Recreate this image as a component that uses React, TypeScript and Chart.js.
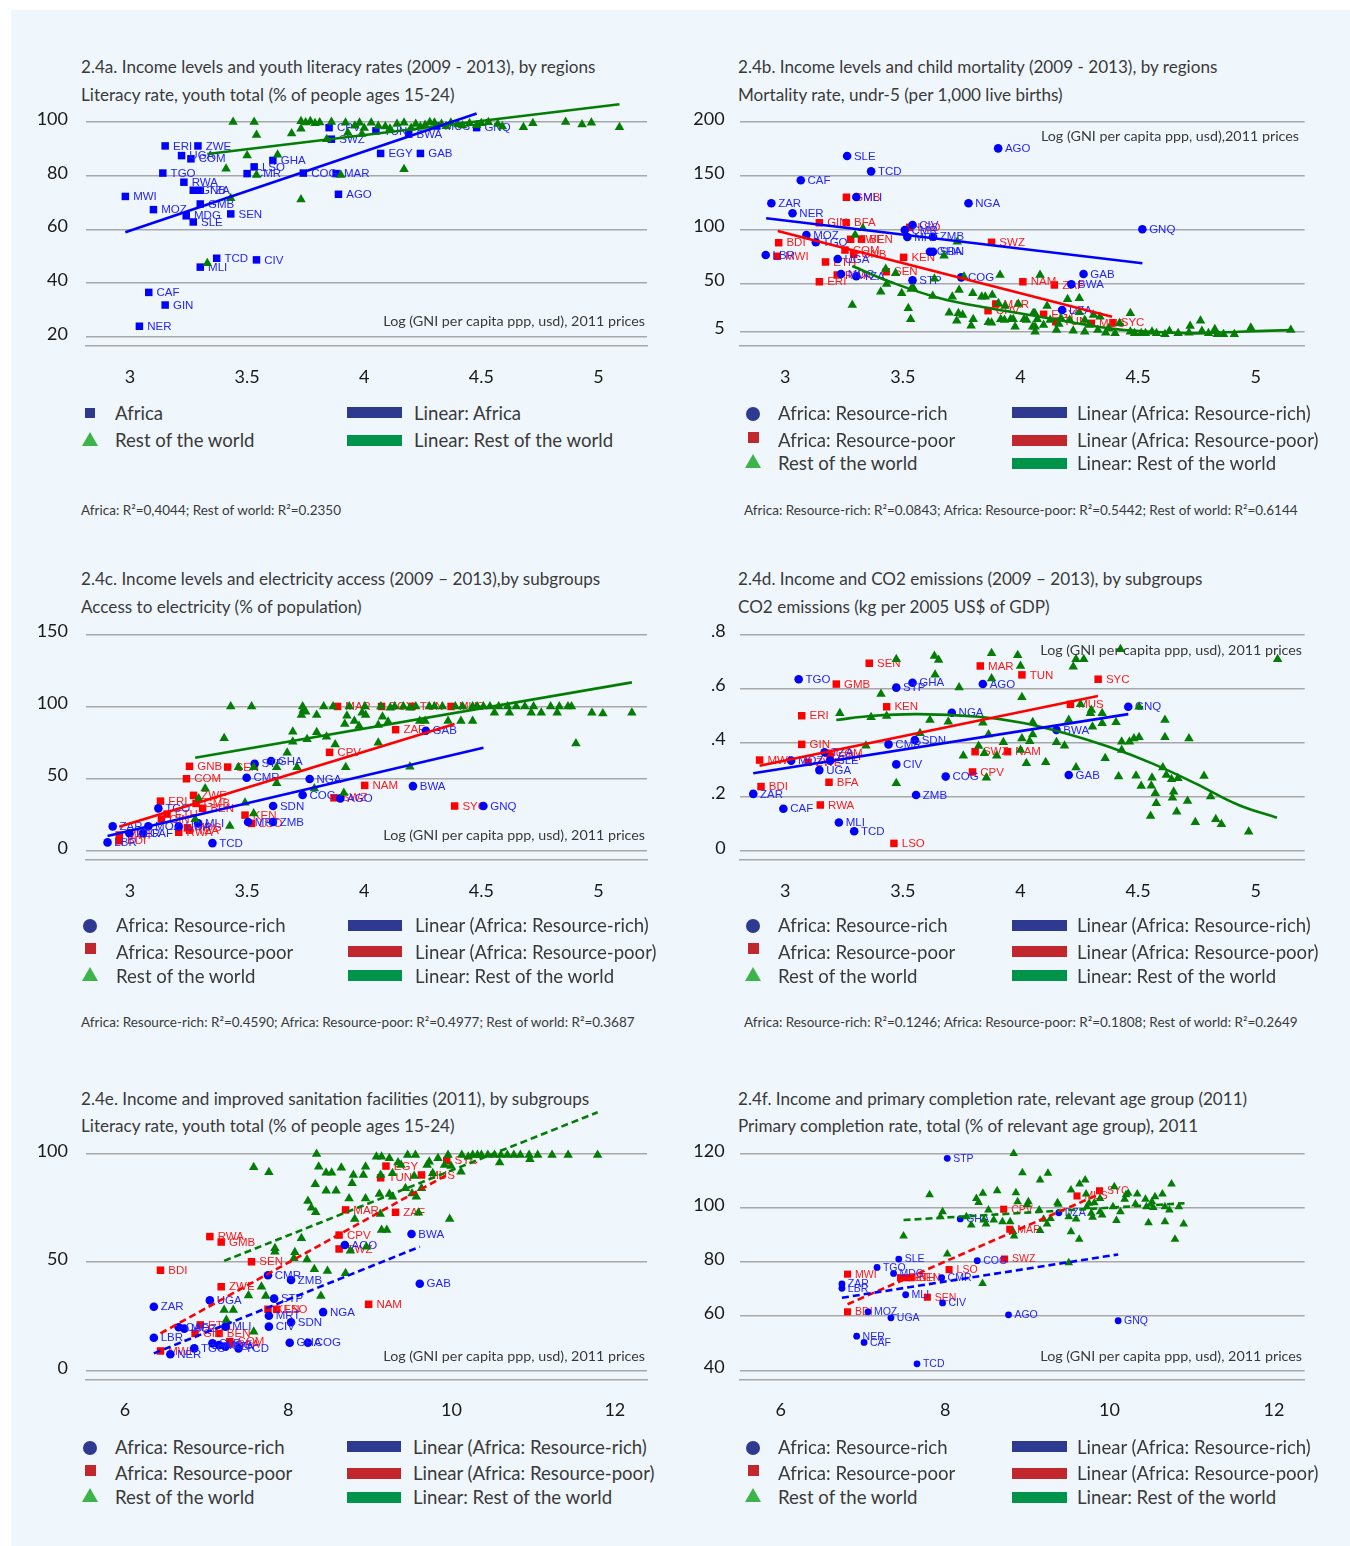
import React, { useEffect, useRef } from "react";
import { Chart, registerables } from "chart.js";
Chart.register(...registerables);

type Pt = [string, number, number];
type XY = [number, number];

// ---------------- DATA ----------------
// 2.4a youth literacy
const A_AFRICA: Pt[] = [
  ["ERI", 3.15, 91.1], ["ZWE", 3.29, 91.1], ["UGA", 3.22, 87.5], ["COM", 3.26, 86.3], ["TGO", 3.14, 81.0],
  ["RWA", 3.23, 77.6], ["GNB", 3.27, 74.6], ["TZA", 3.30, 74.6], ["MWI", 2.98, 72.3], ["GMB", 3.30, 69.5],
  ["MOZ", 3.10, 67.4], ["MDG", 3.24, 65.1], ["SLE", 3.27, 62.8], ["SEN", 3.43, 65.8], ["LSO", 3.53, 83.3],
  ["CMR", 3.50, 80.8], ["GHA", 3.61, 85.7], ["COG", 3.74, 81.0], ["MAR", 3.88, 80.8], ["AGO", 3.89, 73.1],
  ["TCD", 3.37, 49.3], ["CIV", 3.54, 48.7], ["MLI", 3.30, 46.0], ["CAF", 3.08, 36.6], ["GIN", 3.15, 31.9],
  ["NER", 3.04, 24.0], ["CPV", 3.85, 97.9], ["SWZ", 3.86, 93.6], ["TUN", 4.05, 96.7], ["BWA", 4.19, 95.5],
  ["EGY", 4.07, 88.3], ["GAB", 4.24, 88.3], ["MUS", 4.31, 98.5], ["GNQ", 4.48, 97.9],
];
const A_REST: XY[] = [
  [3.44, 100], [3.53, 100], [3.54, 95.2], [3.50, 87.5], [3.41, 82.6], [3.43, 71.6], [3.54, 80.3], [3.63, 87.8],
  [3.69, 95.7], [3.73, 100.3], [3.73, 97.5], [3.73, 71.2], [3.79, 99.5], [3.86, 100], [3.84, 93.6], [3.92, 99.7],
  [3.93, 96], [3.90, 80.3], [3.98, 99.7], [3.99, 95.5], [4.03, 99.7], [4.06, 98.5], [4.09, 98.3], [4.14, 99.3],
  [4.17, 99.7], [4.17, 82.4], [4.22, 99.3], [4.26, 98.9], [4.30, 99.7], [4.33, 99.3], [4.37, 99.7], [4.45, 99.5],
  [4.50, 99.5], [4.57, 99.3], [4.59, 98.3], [4.68, 98], [4.72, 99.5], [4.86, 100], [4.93, 99.1], [4.97, 99.7],
  [5.09, 98], [3.33, 47.4], [3.75, 99.8], [3.81, 99.8], [4.00, 97.8], [4.11, 97.5], [4.20, 97.8], [4.24, 98.2],
  [4.28, 99.9], [4.35, 98.4], [4.40, 99.1], [4.42, 98.7], [4.48, 98.8], [4.53, 99.9], [3.77, 100.3], [3.96, 98.6],
];
const A_LINE_AFRICA: XY[] = [[2.98, 59.0], [4.48, 103.2]];
const A_LINE_REST: XY[] = [[3.33, 88.1], [5.09, 106.6]];

// 2.4b child mortality
const B_RICH: Pt[] = [
  ["AGO", 3.905, 175.5], ["SLE", 3.263, 168.4], ["TCD", 3.365, 154.1], ["CAF", 3.066, 145.8], ["ZAR", 2.941, 124.4],
  ["NGA", 3.779, 124.4], ["MLI", 3.302, 130.2], ["NER", 3.031, 115.1], ["GNQ", 4.518, 100.2], ["CIV", 3.541, 104.2],
  ["MOZ", 3.090, 94.9], ["TGO", 3.130, 88.1], ["CMR", 3.508, 99.5], ["MRT", 3.519, 93.0], ["ZMB", 3.628, 93.3],
  ["GHA", 3.615, 79.3], ["SDN", 3.628, 79.3], ["LBR", 2.917, 76.3], ["UGA", 3.223, 72.6], ["MDG", 3.237, 58.6],
  ["TZA", 3.302, 56.5], ["STP", 3.541, 52.7], ["COG", 3.748, 55.5], ["GAB", 4.268, 58.6], ["BWA", 4.216, 49.0],
  ["DZA", 4.177, 25.1],
];
const B_POOR: Pt[] = [
  ["GMB", 3.260, 130.0], ["GIN", 3.145, 106.3], ["BFA", 3.259, 106.3], ["LSO", 3.529, 102.0], ["BDI", 2.972, 87.7],
  ["MWI", 2.966, 75.1], ["ZWE", 3.278, 90.9], ["BEN", 3.324, 90.9], ["COM", 3.254, 80.9], ["GNB", 3.291, 76.9],
  ["SWZ", 3.877, 88.1], ["KEN", 3.503, 74.1], ["ETH", 3.171, 69.8], ["RWA", 3.221, 57.7], ["ERI", 3.145, 51.4],
  ["SEN", 3.429, 60.7], ["NAM", 4.010, 51.4], ["ZAF", 4.144, 48.4], ["MAR", 3.895, 30.7], ["CPV", 3.862, 24.5],
  ["EGY", 4.098, 21.1], ["TUN", 4.150, 14.2], ["MUS", 4.301, 12.7], ["SYC", 4.393, 13.3],
];
const B_REST: XY[] = [
  [3.330, 101.1], [3.297, 94.9], [3.731, 88.6], [3.675, 75.6], [3.285, 29.8], [3.427, 63.3], [3.469, 59.3],
  [3.535, 44.7], [3.431, 49.3], [3.406, 42.1], [3.495, 40.6], [3.523, 26.7], [3.533, 16.5], [3.627, 38.1],
  [3.710, 37.5], [3.739, 43.7], [3.760, 56.1], [3.697, 22.6], [3.736, 22.0], [3.754, 20.5], [3.729, 15.2],
  [3.797, 40.6], [3.799, 16.5], [3.790, 10.5], [3.835, 37.5], [3.880, 39.1], [3.863, 13.7], [3.913, 57.7],
  [3.906, 31.3], [3.934, 28.8], [3.916, 16.5], [3.958, 16.5], [3.977, 9.6], [3.991, 30.7], [4.026, 15.8],
  [4.054, 22.0], [4.062, 9.6], [4.062, 4.9], [3.634, 54.2], [3.545, 45.3], [3.850, 37.5], [3.877, 13.3],
  [3.932, 15.8], [3.969, 16.5], [4.015, 16.5], [4.052, 9.6], [4.061, 22.0], [4.071, 16.5], [4.083, 57.7],
  [4.098, 11.2], [4.113, 28.8], [4.126, 15.8], [4.153, 6.5], [4.163, 12.1], [4.172, 17.4], [4.200, 35.1],
  [4.209, 15.8], [4.224, 5.9], [4.250, 36.0], [4.250, 23.0], [4.273, 4.9], [4.273, 15.8], [4.292, 11.2],
  [4.310, 20.5], [4.329, 6.5], [4.338, 18.9], [4.362, 4.0], [4.375, 8.1], [4.402, 3.4], [4.421, 12.7],
  [4.467, 22.0], [4.467, 4.9], [4.485, 3.4], [4.513, 3.4], [4.531, 3.4], [4.559, 4.9], [4.578, 3.4],
  [4.614, 2.5], [4.633, 5.6], [4.670, 3.4], [4.716, 4.0], [4.721, 10.2], [4.765, 15.2], [4.771, 5.6],
  [4.799, 3.4], [4.826, 7.2], [4.836, 2.5], [4.863, 2.5], [4.909, 2.5], [4.979, 8.7], [5.149, 6.5],
];
const B_LINE_RICH: XY[] = [[2.919, 110.4], [4.518, 68.6]];
const B_LINE_POOR: XY[] = [[2.968, 98.6], [4.389, 18.9]];
const B_LINE_REST: XY[] = [
  [3.285, 66.0], [3.445, 51.4], [3.658, 36.0], [3.870, 26.7], [4.083, 18.9], [4.375, 8.1], [4.559, 4.9],
  [4.743, 3.4], [4.927, 4.9], [5.149, 6.5],
];

// 2.4c electricity access
const C_RICH: Pt[] = [
  ["GAB", 4.263, 83.2], ["GHA", 3.602, 62.2], ["STP", 3.532, 60.3], ["CMR", 3.498, 50.6], ["NGA", 3.767, 49.7],
  ["BWA", 4.208, 44.8], ["COG", 3.737, 38.6], ["AGO", 3.898, 36.3], ["GNQ", 4.509, 31.0], ["SDN", 3.611, 31.0],
  ["TGO", 3.121, 29.4], ["ZAR", 2.926, 16.9], ["MOZ", 3.078, 16.9], ["UGA", 3.208, 16.9], ["MLI", 3.291, 19.0],
  ["MRT", 3.504, 19.9], ["ZMB", 3.610, 19.9], ["LBR", 2.904, 5.8], ["TCD", 3.352, 5.3], ["NER", 2.997, 12.1],
  ["CAF", 3.056, 12.1],
];
const C_POOR: Pt[] = [
  ["ZAF", 4.134, 83.9], ["CPV", 3.852, 68.2], ["GNB", 3.254, 58.5], ["SEN", 3.417, 58.0], ["COM", 3.241, 49.9],
  ["NAM", 4.002, 45.3], ["ZWE", 3.271, 38.4], ["ERI", 3.130, 34.4], ["GMB", 3.282, 32.8], ["BEN", 3.310, 29.4],
  ["SWZ", 3.871, 36.7], ["SYC", 4.386, 31.0], ["KEN", 3.491, 24.7], ["LSO", 3.519, 19.0], ["ETH", 3.158, 25.4],
  ["GIN", 3.134, 22.0], ["MDG", 3.245, 15.9], ["TZA", 3.254, 14.3], ["RWA", 3.208, 12.8], ["BDI", 2.954, 6.9],
  ["MWI", 2.954, 10.9], ["MAR", 3.886, 100], ["EGY", 4.074, 100], ["TUN", 4.204, 100], ["MUS", 4.371, 100],
];
const C_REST: XY[] = [
  [3.430, 100], [3.519, 100], [3.402, 77.9], [3.321, 43.2], [3.293, 36.3], [3.278, 21.8], [3.426, 17.1],
  [3.463, 57.8], [3.528, 57.8], [3.491, 33.3], [3.528, 25.9], [3.626, 57.8], [3.626, 46.7], [3.671, 67.9],
  [3.695, 82.5], [3.695, 75.6], [3.713, 57.8], [3.737, 100], [3.732, 94.1], [3.750, 96.4], [3.756, 77.2],
  [3.787, 43.2], [3.797, 94.1], [3.797, 82.1], [3.827, 100], [3.839, 79], [3.867, 100], [3.876, 73.7],
  [3.921, 57.8], [3.913, 40], [3.917, 87.8], [3.926, 93.6], [3.936, 100], [3.958, 89.9], [3.978, 86.4],
  [3.991, 95.7], [4.003, 100], [4.006, 94.1], [4.060, 74.9], [4.060, 87.1], [4.071, 100], [4.078, 92.9],
  [4.102, 89.4], [4.111, 99.1], [4.167, 100], [4.195, 58.2], [4.195, 99.1], [4.237, 89.9], [4.260, 89.9],
  [4.278, 100], [4.334, 100], [4.358, 89.9], [4.389, 100], [4.413, 89.9], [4.463, 89.9], [4.463, 100],
  [4.482, 100], [4.509, 100], [4.537, 100], [4.556, 95.7], [4.574, 100], [4.612, 100], [4.620, 95.7],
  [4.649, 100], [4.686, 100], [4.713, 95.7], [4.723, 100], [4.756, 95.7], [4.796, 100], [4.824, 95.7],
  [4.833, 100], [4.870, 100], [4.885, 100], [4.904, 74.4], [4.972, 95.7], [5.019, 95.2], [5.143, 95.7],
  [4.13, 100], [4.22, 100], [4.30, 100], [4.42, 100], [3.74, 97.5],
];
const C_LINE_RICH: XY[] = [[2.904, 10.2], [4.509, 71.4]];
const C_LINE_POOR: XY[] = [[2.954, 16.6], [4.386, 87.8]];
const C_LINE_REST: XY[] = [[3.278, 64.5], [5.143, 116.7]];

// 2.4d CO2 emissions
const D_RICH: Pt[] = [
  ["TGO", 3.057, 0.634], ["STP", 3.472, 0.603], ["GHA", 3.541, 0.621], ["AGO", 3.840, 0.616], ["NGA", 3.708, 0.510],
  ["GNQ", 4.458, 0.532], ["BWA", 4.153, 0.446], ["CMR", 3.439, 0.393], ["SDN", 3.551, 0.409], ["TZA", 3.167, 0.364],
  ["SLE", 3.191, 0.333], ["MOZ", 3.025, 0.333], ["UGA", 3.145, 0.298], ["CIV", 3.472, 0.319], ["COG", 3.682, 0.274],
  ["GAB", 4.205, 0.280], ["ZAR", 2.864, 0.210], ["ZMB", 3.556, 0.206], ["CAF", 2.992, 0.155], ["MLI", 3.228, 0.104],
  ["TCD", 3.293, 0.072],
];
const D_POOR: Pt[] = [
  ["SEN", 3.357, 0.693], ["MAR", 3.829, 0.683], ["TUN", 4.006, 0.650], ["GMB", 3.217, 0.616], ["SYC", 4.330, 0.634],
  ["KEN", 3.431, 0.532], ["MUS", 4.212, 0.541], ["ERI", 3.070, 0.499], ["GIN", 3.070, 0.393], ["MWI", 2.891, 0.335],
  ["ZWE", 3.097, 0.327], ["COM", 3.182, 0.360], ["ETH", 3.191, 0.350], ["SWZ", 3.807, 0.366], ["NAM", 3.945, 0.366],
  ["CPV", 3.796, 0.291], ["BDI", 2.897, 0.237], ["BFA", 3.186, 0.253], ["RWA", 3.149, 0.169], ["LSO", 3.462, 0.027],
];
const D_REST: XY[] = [
  [3.232, 0.508], [3.365, 0.493], [3.343, 0.388], [3.407, 0.579], [3.431, 0.498], [3.472, 0.708], [3.472, 0.249],
  [3.573, 0.434], [3.615, 0.483], [3.634, 0.720], [3.652, 0.705], [3.637, 0.650], [3.693, 0.477], [3.739, 0.603],
  [3.757, 0.351], [3.822, 0.387], [3.840, 0.473], [3.846, 0.360], [3.855, 0.270], [3.864, 0.430], [3.877, 0.730],
  [3.877, 0.637], [3.899, 0.351], [3.927, 0.401], [3.988, 0.723], [4.000, 0.683], [4.006, 0.567], [4.006, 0.415],
  [4.000, 0.372], [4.025, 0.323], [4.039, 0.405], [4.052, 0.475], [4.052, 0.430], [4.107, 0.327], [4.153, 0.401],
  [4.187, 0.388], [4.205, 0.483], [4.224, 0.680], [4.236, 0.708], [4.269, 0.708], [4.236, 0.308], [4.255, 0.541],
  [4.297, 0.508], [4.301, 0.520], [4.306, 0.458], [4.347, 0.508], [4.347, 0.471], [4.360, 0.342], [4.406, 0.475],
  [4.417, 0.274], [4.430, 0.403], [4.430, 0.372], [4.425, 0.745], [4.463, 0.403], [4.482, 0.415], [4.491, 0.277],
  [4.504, 0.419], [4.504, 0.532], [4.513, 0.239], [4.553, 0.128], [4.556, 0.240], [4.559, 0.270], [4.573, 0.212],
  [4.577, 0.175], [4.605, 0.308], [4.614, 0.483], [4.614, 0.419], [4.620, 0.280], [4.642, 0.264], [4.646, 0.196],
  [4.651, 0.218], [4.664, 0.144], [4.669, 0.268], [4.710, 0.184], [4.716, 0.415], [4.743, 0.105], [4.780, 0.276],
  [4.808, 0.200], [4.830, 0.116], [4.854, 0.098], [4.970, 0.070], [5.093, 0.708],
];
const D_LINE_RICH: XY[] = [[2.864, 0.286], [4.458, 0.505]];
const D_LINE_POOR: XY[] = [[2.891, 0.314], [4.329, 0.572]];
const D_LINE_REST: XY[] = [
  [3.217, 0.483], [3.361, 0.498], [3.564, 0.505], [3.822, 0.495], [4.006, 0.473], [4.190, 0.434], [4.375, 0.384],
  [4.559, 0.323], [4.743, 0.249], [4.927, 0.169], [5.090, 0.122],
];

// 2.4e sanitation
const E_RICH: Pt[] = [
  ["BWA", 9.510, 63.0], ["AGO", 8.693, 57.9], ["GAB", 9.611, 40.1], ["CMR", 7.752, 44.0], ["ZMB", 8.034, 41.8],
  ["UGA", 7.040, 32.4], ["STP", 7.827, 33.2], ["ZAR", 6.354, 29.5], ["NGA", 8.427, 27.0], ["MRT", 7.763, 25.3],
  ["SDN", 8.034, 22.3], ["CIV", 7.763, 20.3], ["MLI", 7.231, 20.3], ["CAF", 6.658, 20.0], ["MOZ", 6.727, 19.4],
  ["LBR", 6.354, 15.2], ["TGO", 6.849, 10.3], ["SLE", 7.072, 12.6], ["MDG", 7.152, 11.8], ["TZA", 7.231, 11.1],
  ["TCD", 7.391, 10.3], ["GHA", 8.018, 12.9], ["COG", 8.241, 12.9], ["NER", 6.556, 7.6],
];
const E_POOR: Pt[] = [
  ["EGY", 9.197, 94.3], ["TUN", 9.132, 88.9], ["MUS", 9.632, 90.2], ["SYC", 9.941, 96.8], ["ZAF", 9.314, 73.0],
  ["MAR", 8.702, 74.1], ["CPV", 8.623, 62.5], ["SWZ", 8.623, 56.1], ["RWA", 7.040, 61.8], ["GMB", 7.179, 59.3],
  ["SEN", 7.550, 50.2], ["BDI", 6.435, 46.3], ["ZWE", 7.179, 38.7], ["KEN", 7.752, 28.3], ["LSO", 7.858, 28.3],
  ["ETH", 6.923, 21.1], ["GIN", 6.859, 17.2], ["BEN", 7.152, 17.2], ["COM", 7.284, 13.4], ["BFA", 7.284, 12.3],
  ["MWI", 6.435, 9.1], ["NAM", 8.984, 30.6],
];
const E_REST: XY[] = [
  [7.577, 93.7], [7.763, 91.4], [8.347, 99.9], [8.373, 94.0], [8.331, 85.9], [8.241, 78.2], [8.283, 75.1],
  [8.336, 73.0], [8.464, 91.2], [8.532, 91.2], [8.464, 82.9], [8.586, 82.9], [8.650, 93.5], [8.745, 79.4],
  [8.782, 86.4], [8.814, 69.9], [8.798, 90.2], [8.920, 90.2], [8.947, 94.0], [8.947, 79.4], [9.080, 98.6],
  [9.143, 98.6], [9.132, 90.2], [9.116, 81.4], [9.127, 72.2], [9.143, 64.8], [9.207, 64.8], [9.239, 97.9],
  [9.277, 91.0], [9.239, 81.4], [9.277, 80.2], [9.345, 96.0], [9.382, 94.8], [9.436, 84.1], [9.462, 99.4],
  [9.516, 81.7], [9.542, 89.7], [9.558, 99.4], [9.569, 80.2], [9.595, 72.8], [9.632, 84.1], [9.701, 94.8],
  [9.727, 96.3], [9.770, 91.0], [9.834, 97.9], [9.914, 94.8], [9.957, 99.4], [9.977, 69.9], [9.993, 94.3],
  [10.116, 91.7], [10.126, 99.4], [10.205, 98.6], [10.259, 99.4], [10.318, 99.4], [10.366, 99.4], [10.445, 99.4],
  [10.525, 99.4], [10.589, 96.0], [10.604, 99.4], [10.684, 99.4], [10.763, 99.4], [10.843, 99.4], [10.950, 99.4],
  [10.960, 97.4], [11.055, 99.4], [11.231, 99.4], [11.428, 99.4], [11.789, 99.4], [7.837, 56.4], [7.837, 54.8],
  [8.081, 54.6], [8.070, 51.8], [8.161, 61.0], [8.230, 51.3], [8.320, 46.7], [8.480, 45.9], [8.702, 44.9],
  [8.400, 34.4], [8.761, 55.3], [8.957, 57.1], [7.672, 38.7], [7.725, 34.4], [7.513, 34.6], [7.215, 28.0],
  [7.327, 28.0], [7.242, 23.4], [7.577, 18.0],
];
const E_LINE_RICH: XY[] = [[6.354, 8.0], [9.611, 57.1]];
const E_LINE_POOR: XY[] = [[6.435, 17.2], [9.941, 90.2]];
const E_LINE_REST: XY[] = [[7.215, 50.6], [11.789, 119.1]];

// 2.4f primary completion
const F_RICH: Pt[] = [
  ["STP", 8.026, 118.3], ["GHA", 8.184, 95.9], ["DZA", 9.383, 98.2], ["SLE", 7.436, 81.1], ["COG", 8.391, 80.5],
  ["TGO", 7.172, 78.0], ["MDG", 7.373, 75.8], ["CMR", 7.958, 74.2], ["ZAR", 6.745, 71.9], ["LBR", 6.745, 70.3],
  ["MLI", 7.520, 67.9], ["CIV", 7.969, 64.9], ["MOZ", 7.062, 61.6], ["AGO", 8.771, 60.5], ["UGA", 7.341, 59.4],
  ["GNQ", 10.105, 58.3], ["NER", 6.924, 52.6], ["CAF", 7.014, 50.3], ["TCD", 7.658, 42.4],
];
const F_POOR: Pt[] = [
  ["SYC", 9.878, 106.3], ["MUS", 9.604, 104.4], ["CPV", 8.712, 99.5], ["MAR", 8.786, 92.1], ["SWZ", 8.723, 81.1],
  ["LSO", 8.048, 77.2], ["MWI", 6.813, 75.5], ["GIN", 7.457, 74.2], ["ETH", 7.536, 74.2], ["BEN", 7.589, 74.2],
  ["SEN", 7.784, 67.0], ["BDI", 6.813, 61.6],
];
const F_REST: XY[] = [
  [8.834, 120.1], [8.940, 113.0], [9.155, 110.3], [9.251, 112.8], [7.811, 104.8], [7.494, 89.6], [7.969, 98.6],
  [7.942, 96.7], [8.026, 83.0], [8.259, 96.7], [8.317, 93.7], [8.380, 103.5], [8.407, 102.0], [8.459, 105.4],
  [8.470, 95.5], [8.497, 94.0], [8.527, 99.2], [8.455, 72.1], [8.591, 95.5], [8.633, 106.3], [8.697, 94.9],
  [8.791, 94.9], [8.828, 91.2], [8.839, 89.6], [8.861, 105.6], [8.882, 102.3], [8.997, 101.2], [9.013, 102.3],
  [9.145, 99.2], [9.155, 91.6], [9.198, 95.8], [9.240, 94.0], [9.282, 96.1], [9.367, 101.9], [9.377, 101.3],
  [9.504, 96.7], [9.531, 91.2], [9.531, 106.6], [9.593, 95.9], [9.631, 88.4], [9.635, 108.8], [9.704, 110.3],
  [9.715, 105.1], [9.725, 100.4], [9.751, 101.7], [9.778, 98.0], [9.794, 96.5], [9.815, 101.9], [9.884, 98.6],
  [9.910, 97.4], [9.884, 103.5], [10.042, 100.4], [10.058, 107.8], [10.084, 95.3], [10.132, 98.6], [10.184, 103.2],
  [10.200, 104.8], [10.227, 105.4], [10.315, 101.4], [10.337, 105.1], [10.437, 103.2], [10.448, 100.4],
  [10.474, 94.5], [10.516, 102.3], [10.532, 100.1], [10.553, 104.1], [10.643, 105.1], [10.674, 94.9],
  [10.674, 100.4], [10.728, 99.2], [10.754, 108.8], [10.796, 88.4], [10.843, 100.4], [10.902, 94.0], [9.504, 79.7],
];
const F_LINE_RICH: XY[] = [[6.745, 66.8], [10.105, 82.8]];
const F_LINE_POOR: XY[] = [[6.813, 64.4], [9.878, 105.1]];
const F_LINE_REST: XY[] = [[7.494, 95.5], [10.912, 101.7]];

// tick values / labels
const X_TICKS_A = [3, 3.5, 4, 4.5, 5];
const X_LABELS_A = ["3", "3.5", "4", "4.5", "5"];
const X_TICKS_E = [6, 8, 10, 12];
const X_LABELS_E = ["6", "8", "10", "12"];
const Y_TICKS_A = [20, 40, 60, 80, 100];
const Y_TICKS_B = [5, 50, 100, 150, 200];
const Y_TICKS_C = [0, 50, 100, 150];
const Y_TICKS_D = [0, 0.2, 0.4, 0.6, 0.8];
const Y_LABELS_D = ["0", ".2", ".4", ".6", ".8"];
const Y_TICKS_E = [0, 50, 100];
const Y_TICKS_F = [40, 60, 80, 100, 120];

// ---------------- STYLE ----------------
const FONT = "Lato, 'Open Sans', sans-serif";
const PT_FONT = "'Liberation Sans', Arial, sans-serif";
const BLUE = "#0000ff";
const RED = "#ff0000";
const GREEN = "#047d04";
const LBL_BLUE = "#2424ff";
const LBL_RED = "#ff1a1a";
const GRID = "#a8a8a8";
const BG = "#eff6fc";

type Group = { pts: Pt[]; color: string; labelColor: string; style: string; r: number };
type LineSpec = { pts: XY[]; color: string; dashed?: boolean; curve?: boolean };
type Spec = {
  area: { l: number; r: number; t: number; b: number };
  xMin: number; xMax: number; yMin: number; yMax: number;
  xTicks: number[]; xLabels: string[]; yTicks: number[]; yLabels: string[]; yPad: number;
  groups: Group[]; rest: XY[]; triR: number; lines: LineSpec[]; labelSize: number;
};

const labelPlugin = {
  id: "ptLabels",
  afterDatasetDraw(chart: any, args: any) {
    const ds = chart.data.datasets[args.index];
    if (!ds.codes) return;
    const ctx = chart.ctx;
    ctx.save();
    ctx.font = `${ds.labelSize}px ${PT_FONT}`;
    ctx.fillStyle = ds.labelColor;
    ctx.textBaseline = "middle";
    ctx.textAlign = "left";
    args.meta.data.forEach((el: any, j: number) => {
      ctx.fillText(ds.codes[j], el.x + ds.labelDx, el.y + 0.5);
    });
    ctx.restore();
  },
};

function ChartPanel({ spec }: { spec: Spec }) {
  const ref = useRef<HTMLCanvasElement>(null);
  const { area } = spec;
  const left = Math.floor(area.l - 70);
  const top = Math.floor(area.t - 34);
  const width = Math.ceil(area.r + 26 - left);
  const height = Math.round(area.b + 56 - top);
  useEffect(() => {
    const datasets: any[] = [];
    spec.lines.forEach((ln) =>
      datasets.push({
        type: "line",
        data: ln.pts.map(([x, y]) => ({ x, y })),
        borderColor: ln.color,
        borderWidth: 2.6,
        borderDash: ln.dashed ? [7, 4] : [],
        pointRadius: 0,
        fill: false,
        tension: ln.curve ? 0.4 : 0,
        order: 0,
        clip: false,
      })
    );
    datasets.push({
      type: "scatter",
      label: "Rest of the world",
      data: spec.rest.map(([x, y]) => ({ x, y })),
      pointStyle: "triangle",
      pointRadius: spec.triR,
      backgroundColor: GREEN,
      borderColor: GREEN,
      borderWidth: 0,
      order: 1,
      clip: false,
    });
    spec.groups.forEach((g, i) =>
      datasets.push({
        type: "scatter",
        data: g.pts.map((p) => ({ x: p[1], y: p[2] })),
        codes: g.pts.map((p) => p[0]),
        labelColor: g.labelColor,
        labelSize: spec.labelSize,
        labelDx: g.r + 2.5,
        pointStyle: g.style,
        pointRadius: g.r,
        backgroundColor: g.color,
        borderColor: g.color,
        borderWidth: 0,
        order: 2 + i,
        clip: false,
      })
    );
    const dims = { xH: top + height - area.b, yW: area.l - left };
    const padding = { top: area.t - top, right: left + width - area.r, left: 0, bottom: 0 };
    const chart = new Chart(ref.current as HTMLCanvasElement, {
      type: "scatter",
      data: { datasets },
      options: {
        animation: false,
        responsive: false,
        devicePixelRatio: 1,
        events: [],
        layout: { padding },
        plugins: { legend: { display: false }, tooltip: { enabled: false } },
        scales: {
          x: {
            type: "linear",
            min: spec.xMin,
            max: spec.xMax,
            afterBuildTicks: (s: any) => { s.ticks = spec.xTicks.map((v) => ({ value: v })); },
            afterFit: (s: any) => { s.height = dims.xH; },
            grid: { display: false, drawTicks: false },
            border: { display: true, color: GRID, width: 1.5 },
            ticks: {
              padding: 20,
              color: "#1a1a1a",
              font: { family: FONT, size: 18 },
              callback: (v: any) => spec.xLabels[spec.xTicks.indexOf(Number(v))] ?? "",
            },
          },
          y: {
            type: "linear",
            min: spec.yMin,
            max: spec.yMax,
            afterBuildTicks: (s: any) => { s.ticks = spec.yTicks.map((v) => ({ value: v })); },
            afterFit: (s: any) => { s.width = dims.yW; },
            grid: { color: GRID, lineWidth: 1.5, drawTicks: false },
            border: { display: false },
            ticks: {
              padding: spec.yPad,
              labelOffset: -3,
              color: "#1a1a1a",
              font: { family: FONT, size: 18 },
              callback: (v: any) => spec.yLabels[spec.yTicks.indexOf(Number(v))] ?? "",
            },
          },
        },
      } as any,
      plugins: [labelPlugin],
    });
    // correct the scales so the value range lands exactly on the intended pixel rectangle
    for (let k = 0; k < 5; k++) {
      const xs: any = chart.scales.x;
      const ys: any = chart.scales.y;
      const dt = ys.getPixelForValue(spec.yMax) - (area.t - top);
      const db = ys.getPixelForValue(spec.yMin) - (area.b - top);
      const dl = xs.getPixelForValue(spec.xMin) - (area.l - left);
      const dr = xs.getPixelForValue(spec.xMax) - (area.r - left);
      if (Math.max(Math.abs(dt), Math.abs(db), Math.abs(dl), Math.abs(dr)) < 0.25) break;
      const p = (chart.options as any).layout.padding;
      p.top -= dt;
      p.right += dr;
      dims.xH += db;
      dims.yW -= dl;
      chart.update();
    }
    return () => chart.destroy();
  }, []);
  return (
    <canvas
      ref={ref}
      width={width}
      height={height}
      style={{ position: "absolute", left, top, width, height }}
    />
  );
}

const richGroup = (pts: Pt[], r = 4.3): Group => ({ pts, color: BLUE, labelColor: LBL_BLUE, style: "circle", r });
const poorGroup = (pts: Pt[], r = 5.3): Group => ({ pts, color: RED, labelColor: LBL_RED, style: "rect", r });

const SPEC_A: Spec = {
  area: { l: 86, r: 647, t: 100.5, b: 346 },
  xMin: 2.812, xMax: 5.2075, yMin: 16.65, yMax: 108,
  xTicks: X_TICKS_A, xLabels: X_LABELS_A, yTicks: Y_TICKS_A, yLabels: Y_TICKS_A.map(String), yPad: 18,
  groups: [{ pts: A_AFRICA, color: BLUE, labelColor: LBL_BLUE, style: "rect", r: 5.3 }],
  rest: A_REST, triR: 5.5, labelSize: 11.5,
  lines: [{ pts: A_LINE_AFRICA, color: BLUE }, { pts: A_LINE_REST, color: GREEN }],
};
const SPEC_B: Spec = {
  area: { l: 739.6, r: 1304.7, t: 122, b: 346 },
  xMin: 2.806, xMax: 5.208, yMin: -8.37, yMax: 200,
  xTicks: X_TICKS_A, xLabels: X_LABELS_A, yTicks: Y_TICKS_B, yLabels: Y_TICKS_B.map(String), yPad: 15,
  groups: [richGroup(B_RICH), poorGroup(B_POOR)],
  rest: B_REST, triR: 5.5, labelSize: 11.5,
  lines: [
    { pts: B_LINE_RICH, color: BLUE },
    { pts: B_LINE_POOR, color: RED },
    { pts: B_LINE_REST, color: GREEN, curve: true },
  ],
};
const SPEC_C: Spec = {
  area: { l: 86, r: 647, t: 634.3, b: 860 },
  xMin: 2.812, xMax: 5.2075, yMin: -6.4, yMax: 150,
  xTicks: X_TICKS_A, xLabels: X_LABELS_A, yTicks: Y_TICKS_C, yLabels: Y_TICKS_C.map(String), yPad: 18,
  groups: [richGroup(C_RICH), poorGroup(C_POOR)],
  rest: C_REST, triR: 5.5, labelSize: 11.5,
  lines: [
    { pts: C_LINE_RICH, color: BLUE },
    { pts: C_LINE_POOR, color: RED },
    { pts: C_LINE_REST, color: GREEN },
  ],
};
const SPEC_D: Spec = {
  area: { l: 739.6, r: 1304.7, t: 634.3, b: 860 },
  xMin: 2.806, xMax: 5.208, yMin: -0.0344, yMax: 0.8,
  xTicks: X_TICKS_A, xLabels: X_LABELS_A, yTicks: Y_TICKS_D, yLabels: Y_LABELS_D, yPad: 14,
  groups: [richGroup(D_RICH), poorGroup(D_POOR)],
  rest: D_REST, triR: 5.5, labelSize: 11.5,
  lines: [
    { pts: D_LINE_RICH, color: BLUE },
    { pts: D_LINE_POOR, color: RED },
    { pts: D_LINE_REST, color: GREEN, curve: true },
  ],
};
const SPEC_E: Spec = {
  area: { l: 86, r: 647, t: 1110.3, b: 1379.3 },
  xMin: 5.523, xMax: 12.394, yMin: -3.96, yMax: 120,
  xTicks: X_TICKS_E, xLabels: X_LABELS_E, yTicks: Y_TICKS_E, yLabels: Y_TICKS_E.map(String), yPad: 18,
  groups: [richGroup(E_RICH), poorGroup(E_POOR)],
  rest: E_REST, triR: 5.5, labelSize: 11.5,
  lines: [
    { pts: E_LINE_RICH, color: BLUE, dashed: true },
    { pts: E_LINE_POOR, color: RED, dashed: true },
    { pts: E_LINE_REST, color: GREEN, dashed: true },
  ],
};
const SPEC_F: Spec = {
  area: { l: 739.6, r: 1304.7, t: 1153.7, b: 1379.3 },
  xMin: 5.5, xMax: 12.374, yMin: 36.68, yMax: 120,
  xTicks: X_TICKS_E, xLabels: X_LABELS_E, yTicks: Y_TICKS_F, yLabels: Y_TICKS_F.map(String), yPad: 15,
  groups: [richGroup(F_RICH, 3.4), poorGroup(F_POOR, 5)],
  rest: F_REST, triR: 5, labelSize: 10.5,
  lines: [
    { pts: F_LINE_RICH, color: BLUE, dashed: true },
    { pts: F_LINE_POOR, color: RED, dashed: true },
    { pts: F_LINE_REST, color: GREEN, dashed: true },
  ],
};

// ---------------- HTML TEXT ----------------
function Txt({ x, y, size, children, color = "#3a3a3a", right = false }: any) {
  const style: any = {
    position: "absolute",
    top: y - size * 0.6,
    height: size * 1.2,
    lineHeight: `${size * 1.2}px`,
    fontSize: size,
    fontFamily: FONT,
    color,
    whiteSpace: "nowrap",
  };
  if (right) style.right = 1350 - x;
  else style.left = x;
  return <div style={style}>{children}</div>;
}

const L_NAVY = "#2e3a8f";
const L_RED = "#c1272d";
const L_GREEN = "#3cb44a";
const L_BAR_GREEN = "#00934a";

function Marker({ kind, x, y }: { kind: string; x: number; y: number }) {
  if (kind === "circle")
    return <div style={{ position: "absolute", left: x - 7, top: y - 7, width: 14, height: 14, borderRadius: 7, background: L_NAVY }} />;
  if (kind === "navySquare")
    return <div style={{ position: "absolute", left: x - 5, top: y - 5, width: 10, height: 10, background: L_NAVY }} />;
  if (kind === "redSquare")
    return <div style={{ position: "absolute", left: x - 5.5, top: y - 5.5, width: 11, height: 11, background: L_RED }} />;
  return (
    <svg style={{ position: "absolute", left: x - 8, top: y - 7 }} width={16} height={14}>
      <polygon points="8,0 16,14 0,14" fill={L_GREEN} />
    </svg>
  );
}

function Legend({ items, mx, tx, bx1, bx2, btx, rows }: any) {
  return (
    <>
      {items.map((it: any, i: number) => (
        <React.Fragment key={i}>
          <Marker kind={it.marker} x={mx} y={rows[i] + it.dy} />
          <Txt x={tx} y={rows[i]} size={18.6}>{it.text}</Txt>
          <div style={{ position: "absolute", left: bx1, top: rows[i] - 5.5, width: bx2 - bx1, height: 11, background: it.bar }} />
          <Txt x={btx} y={rows[i]} size={18.6}>{it.lineText}</Txt>
        </React.Fragment>
      ))}
    </>
  );
}

const LEG3 = [
  { marker: "circle", dy: 1, text: "Africa: Resource-rich", bar: L_NAVY, lineText: "Linear (Africa: Resource-rich)" },
  { marker: "redSquare", dy: -3, text: "Africa: Resource-poor", bar: L_RED, lineText: "Linear (Africa: Resource-poor)" },
  { marker: "tri", dy: -2, text: "Rest of the world", bar: L_BAR_GREEN, lineText: "Linear: Rest of the world" },
];
const LEG2 = [
  { marker: "navySquare", dy: 0, text: "Africa", bar: L_NAVY, lineText: "Linear: Africa" },
  { marker: "tri", dy: -1, text: "Rest of the world", bar: L_BAR_GREEN, lineText: "Linear: Rest of the world" },
];

const LOGNOTE = "Log (GNI per capita ppp, usd), 2011 prices";
const TS = 17.1;
const NS = 13.5;
const LS = 14.3;

export default function App() {
  return (
    <div style={{ position: "relative", width: 1350, height: 1546, background: "#ffffff", overflow: "hidden" }}>
      <style>{"body{margin:0;}"}</style>
      <div style={{ position: "absolute", left: 11, top: 10, width: 1339, height: 1536, background: BG }} />

      {/* Titles */}
      <Txt x={81} y={67} size={TS}>2.4a. Income levels and youth literacy rates (2009 - 2013), by regions</Txt>
      <Txt x={81} y={95} size={TS}>Literacy rate, youth total (% of people ages 15-24)</Txt>
      <Txt x={738} y={67} size={TS}>2.4b. Income levels and child mortality (2009 - 2013), by regions</Txt>
      <Txt x={738} y={95} size={TS}>Mortality rate, undr-5 (per 1,000 live births)</Txt>
      <Txt x={81} y={579} size={TS}>2.4c. Income levels and electricity access (2009 – 2013),by subgroups</Txt>
      <Txt x={81} y={607} size={TS}>Access to electricity (% of population)</Txt>
      <Txt x={738} y={579} size={TS}>2.4d. Income and CO2 emissions (2009 – 2013), by subgroups</Txt>
      <Txt x={738} y={607} size={TS}>CO2 emissions (kg per 2005 US$ of GDP)</Txt>
      <Txt x={81} y={1099} size={TS}>2.4e. Income and improved sanitation facilities (2011), by subgroups</Txt>
      <Txt x={81} y={1126} size={TS}>Literacy rate, youth total (% of people ages 15-24)</Txt>
      <Txt x={738} y={1099} size={TS}>2.4f. Income and primary completion rate, relevant age group (2011)</Txt>
      <Txt x={738} y={1126} size={TS}>Primary completion rate, total (% of relevant age group), 2011</Txt>

      <ChartPanel spec={SPEC_A} />
      <ChartPanel spec={SPEC_B} />
      <ChartPanel spec={SPEC_C} />
      <ChartPanel spec={SPEC_D} />
      <ChartPanel spec={SPEC_E} />
      <ChartPanel spec={SPEC_F} />

      {/* In-plot axis notes */}
      <Txt x={645} y={321} size={LS} right>{LOGNOTE}</Txt>
      <Txt x={1299} y={136} size={LS} right>Log (GNI per capita ppp, usd),2011 prices</Txt>
      <Txt x={645} y={835} size={LS} right>{LOGNOTE}</Txt>
      <Txt x={1302} y={650} size={LS} right>{LOGNOTE}</Txt>
      <Txt x={645} y={1356} size={LS} right>{LOGNOTE}</Txt>
      <Txt x={1302} y={1356} size={LS} right>{LOGNOTE}</Txt>

      {/* Legends */}
      <Legend items={LEG2} mx={89.5} tx={115} bx1={347} bx2={402} btx={414} rows={[412.7, 440]} />
      <Legend items={LEG3} mx={753} tx={778} bx1={1012} bx2={1067} btx={1077} rows={[412.7, 440, 463.3]} />
      <Legend items={LEG3} mx={90} tx={116} bx1={348} bx2={402} btx={415} rows={[925, 951.7, 975.7]} />
      <Legend items={LEG3} mx={753} tx={778} bx1={1012} bx2={1067} btx={1077} rows={[925, 951.7, 975.7]} />
      <Legend items={LEG3} mx={90} tx={115} bx1={347} bx2={401} btx={413} rows={[1446.7, 1473.3, 1497.3]} />
      <Legend items={LEG3} mx={753} tx={778} bx1={1012} bx2={1067} btx={1077} rows={[1446.7, 1473.3, 1497.3]} />

      {/* R2 notes */}
      <Txt x={81} y={510} size={NS}>Africa: R²=0,4044; Rest of world: R²=0.2350</Txt>
      <Txt x={744} y={510} size={NS}>Africa: Resource-rich: R²=0.0843; Africa: Resource-poor: R²=0.5442; Rest of world: R²=0.6144</Txt>
      <Txt x={81} y={1022} size={NS}>Africa: Resource-rich: R²=0.4590; Africa: Resource-poor: R²=0.4977; Rest of world: R²=0.3687</Txt>
      <Txt x={744} y={1022} size={NS}>Africa: Resource-rich: R²=0.1246; Africa: Resource-poor: R²=0.1808; Rest of world: R²=0.2649</Txt>
    </div>
  );
}
